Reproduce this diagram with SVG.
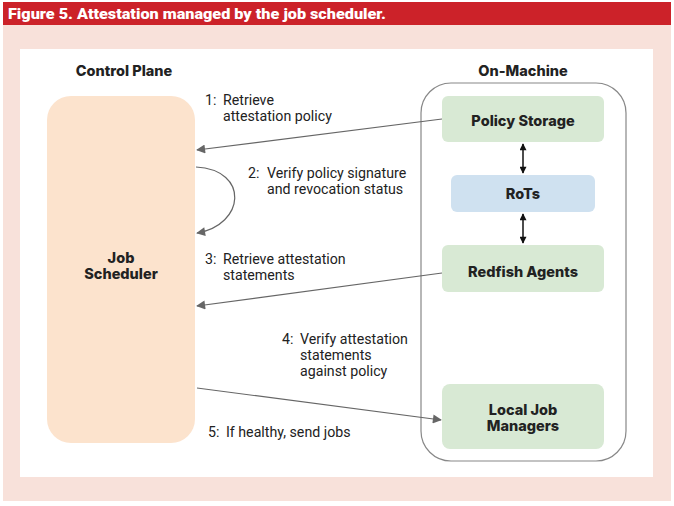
<svg xmlns="http://www.w3.org/2000/svg" width="674" height="506" viewBox="0 0 674 506">
<defs>
<style>
.title{font-family:Roboto,"Liberation Sans",sans-serif;font-weight:900;font-size:14.5px;fill:#fff}
.hdr{font-family:Inter,"Liberation Sans",sans-serif;font-weight:800;font-size:14.5px;fill:#222}
.node{font-family:Inter,"Liberation Sans",sans-serif;font-weight:800;font-size:14.5px;fill:#222}
.lbl{font-family:Roboto,"Liberation Sans",sans-serif;font-size:14.2px;fill:#222}
.conn{fill:none;stroke:#666;stroke-width:1.2}
.dbl{fill:none;stroke:#111;stroke-width:1.5}
</style>
<marker id="ah" viewBox="0 0 10 10" refX="9" refY="5" markerWidth="11" markerHeight="9" markerUnits="userSpaceOnUse" orient="auto"><path d="M0,0 L10,5 L0,10 z" fill="#666"/></marker>
<marker id="bh" viewBox="0 0 10 10" refX="9" refY="5" markerWidth="8" markerHeight="7" markerUnits="userSpaceOnUse" orient="auto-start-reverse"><path d="M0,0 L10,5 L0,10 z" fill="#111"/></marker>
</defs>
<rect x="0" y="0" width="674" height="506" fill="#fff"/>
<rect x="3" y="25" width="668" height="476" fill="#f8e1da"/>
<rect x="3" y="2" width="668" height="23" fill="#cc2229"/>
<text class="title" x="8" y="19" textLength="378" lengthAdjust="spacingAndGlyphs">Figure 5. Attestation managed by the job scheduler.</text>
<rect x="20" y="49" width="633" height="428" fill="#fff"/>
<text class="hdr" x="124" y="76" text-anchor="middle">Control Plane</text>
<text class="hdr" x="523" y="76" text-anchor="middle">On-Machine</text>
<rect x="421" y="83" width="205" height="378" rx="30" fill="none" stroke="#888" stroke-width="1.2"/>
<g id="job-scheduler">
<rect x="47" y="96" width="148" height="347" rx="24" fill="#fce3cd"/>
<text class="node" x="121" y="263" text-anchor="middle">Job</text>
<text class="node" x="121" y="279" text-anchor="middle">Scheduler</text>
</g>
<g id="policy-storage">
<rect x="442" y="96" width="162" height="46" rx="6" fill="#d8e9d4"/>
<text class="node" x="523" y="126" text-anchor="middle">Policy Storage</text>
</g>
<g id="rots">
<rect x="451" y="175" width="144" height="37" rx="6" fill="#cfe1f0"/>
<text class="node" x="523" y="199" text-anchor="middle">RoTs</text>
</g>
<g id="redfish-agents">
<rect x="442" y="245" width="162" height="47" rx="6" fill="#d8e9d4"/>
<text class="node" x="523" y="277" text-anchor="middle">Redfish Agents</text>
</g>
<g id="local-job-managers">
<rect x="442" y="384" width="162" height="65" rx="8" fill="#d8e9d4"/>
<text class="node" x="523" y="415" text-anchor="middle">Local Job</text>
<text class="node" x="523" y="431" text-anchor="middle">Managers</text>
</g>
<g id="connectors">
<line class="conn" x1="442" y1="119" x2="197" y2="150" marker-end="url(#ah)"/>
<path class="conn" d="M196,167 C250,170 245,225 197,233" marker-end="url(#ah)"/>
<line class="conn" x1="442" y1="273" x2="197" y2="306" marker-end="url(#ah)"/>
<line class="conn" x1="197" y1="388" x2="441" y2="420" marker-end="url(#ah)"/>
<line class="dbl" x1="523" y1="144" x2="523" y2="173" marker-start="url(#bh)" marker-end="url(#bh)"/>
<line class="dbl" x1="523" y1="214" x2="523" y2="243" marker-start="url(#bh)" marker-end="url(#bh)"/>
</g>
<g id="labels">
<text class="lbl" x="205" y="105">1:<tspan x="223">Retrieve</tspan></text>
<text class="lbl" x="223" y="121">attestation policy</text>
<text class="lbl" x="248" y="178">2:<tspan x="267">Verify policy signature</tspan></text>
<text class="lbl" x="267" y="194">and revocation status</text>
<text class="lbl" x="205" y="264">3:<tspan x="223">Retrieve attestation</tspan></text>
<text class="lbl" x="223" y="280">statements</text>
<text class="lbl" x="282" y="344">4:<tspan x="300">Verify attestation</tspan></text>
<text class="lbl" x="300" y="360">statements</text>
<text class="lbl" x="300" y="376">against policy</text>
<text class="lbl" x="208" y="437">5:<tspan x="226">If healthy, send jobs</tspan></text>
</g>
</svg>
